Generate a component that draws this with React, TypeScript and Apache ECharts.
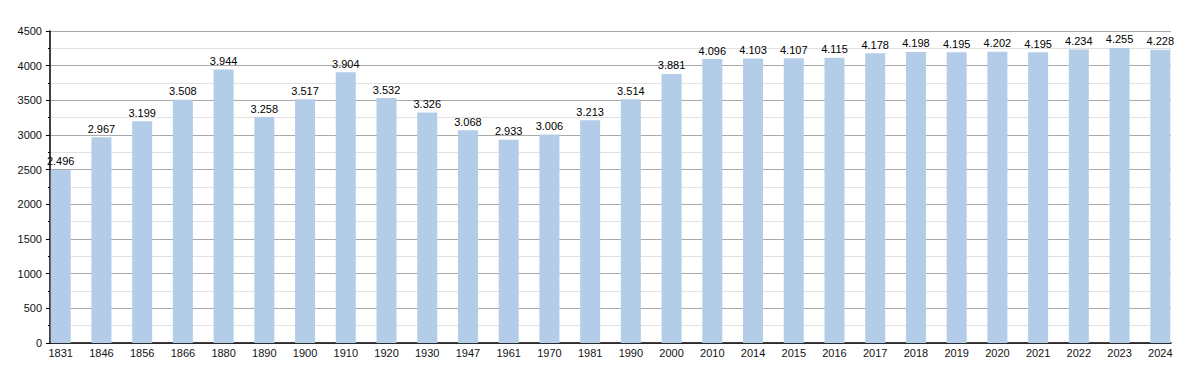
import React, { useEffect, useRef } from "react";
import * as echarts from "echarts";

const years = ["1831","1846","1856","1866","1880","1890","1900","1910","1920","1930","1947","1961","1970","1981","1990","2000","2010","2014","2015","2016","2017","2018","2019","2020","2021","2022","2023","2024"];
const population = [2496,2967,3199,3508,3944,3258,3517,3904,3532,3326,3068,2933,3006,3213,3514,3881,4096,4103,4107,4115,4178,4198,4195,4202,4195,4234,4255,4228];

const fmt = (v: number) => {
  const s = String(v);
  return s.length > 3 ? s.slice(0, s.length - 3) + "." + s.slice(-3) : s;
};

export default function App() {
  const ref = useRef<HTMLDivElement>(null);
  useEffect(() => {
    const chart = echarts.init(ref.current!, null, { renderer: "svg" });
    chart.setOption({
      animation: false,
      textStyle: { fontFamily: "Liberation Sans, Arial, sans-serif" },
      grid: { left: 42, top: 23, width: 1121, height: 312, containLabel: false },
      xAxis: {
        type: "value",
        min: -0.263,
        max: years.length - 1 + 0.263,
        axisLine: { show: true, onZero: false, lineStyle: { color: "#000", width: 1.5 } },
        axisTick: { show: false },
        splitLine: { show: false },
        axisLabel: {
          customValues: years.map((_, i) => i),
          formatter: (v: number) => years[Math.round(v)],
          color: "#111",
          fontSize: 11,
          margin: 4,
        },
      },
      yAxis: {
        type: "value",
        min: 0,
        max: 4500,
        interval: 500,
        axisLine: { show: true, onZero: false, lineStyle: { color: "#000", width: 1.5 } },
        axisTick: { show: true, inside: false, length: 4, lineStyle: { color: "#000" } },
        minorTick: { show: true, splitNumber: 2, length: 2, lineStyle: { color: "#000" } },
        splitLine: { show: true, lineStyle: { color: "#aaaaaa", width: 1 } },
        minorSplitLine: { show: true, lineStyle: { color: "#e2e2e2", width: 1 } },
        axisLabel: { color: "#111", fontSize: 11, margin: 8, formatter: (v: number) => String(v) },
      },
      series: [
        {
          type: "bar",
          barWidth: 20,
          data: population.map((v, i) => [i, v]),
          itemStyle: { color: "#b3cde8" },
          label: {
            show: true,
            position: "top",
            distance: 3,
            color: "#000",
            fontSize: 11,
            formatter: (p: any) => fmt(p.value[1]),
          },
        },
      ],
    });
    return () => chart.dispose();
  }, []);
  return <div ref={ref} style={{ width: 1184, height: 357 }} />;
}
